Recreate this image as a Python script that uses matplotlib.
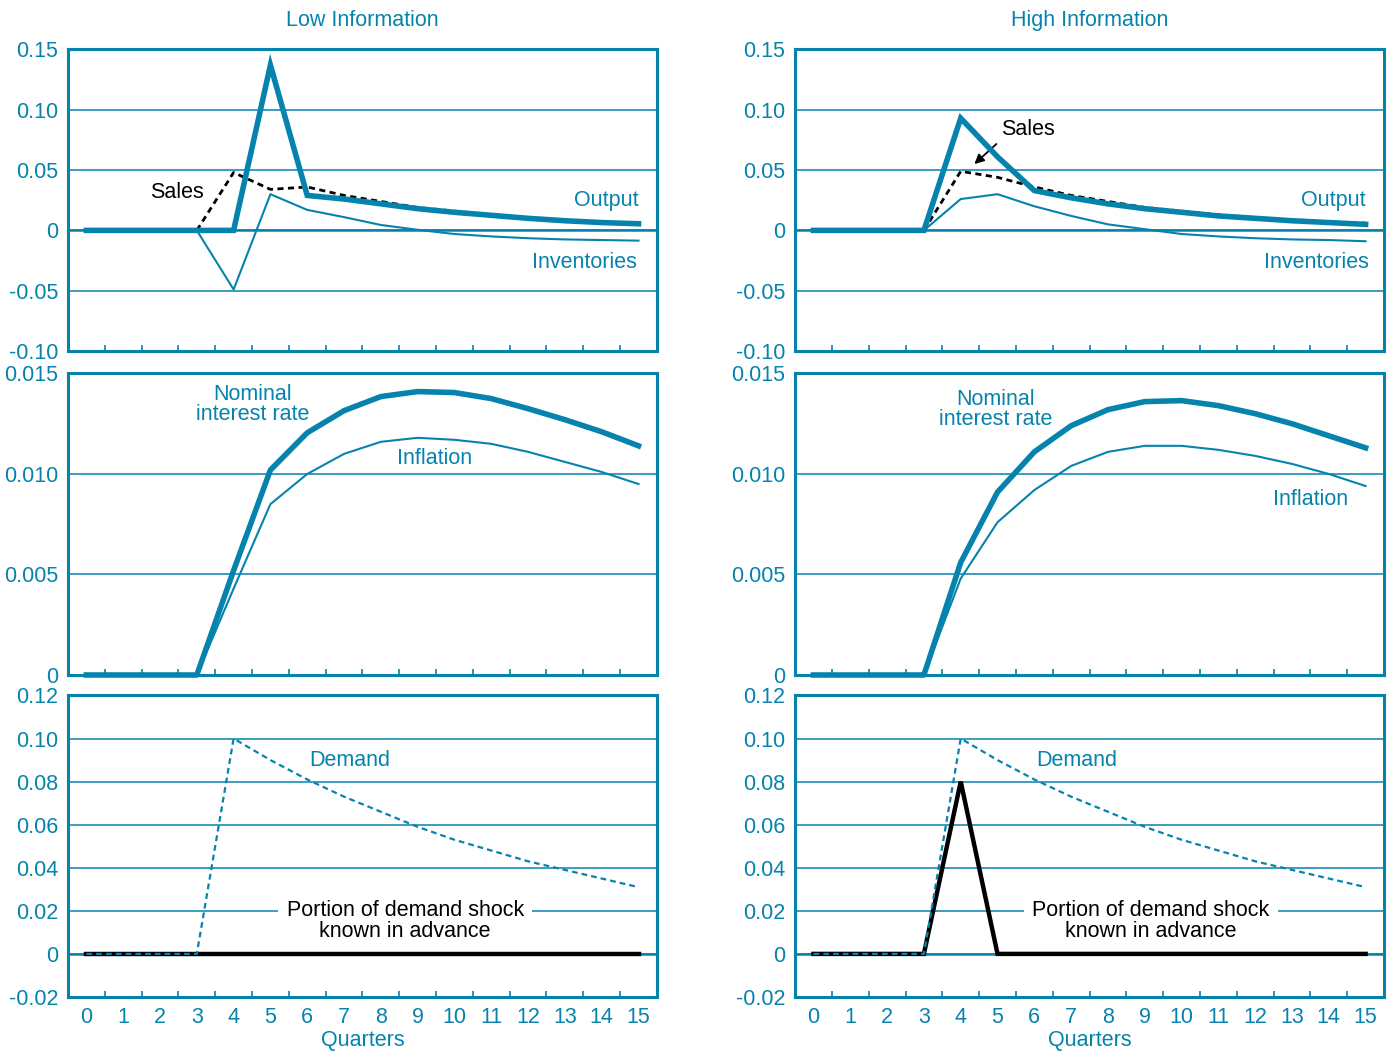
import numpy as np
import matplotlib
matplotlib.use("Agg")
import matplotlib.pyplot as plt

plt.rcParams['font.family'] = ['Liberation Sans', 'DejaVu Sans']

BLUE = '#0683ad'
FS = 15.5

quarters = np.arange(0, 16)

# Low information panels
low_output = [0, 0, 0, 0, 0, 0.137, 0.029, 0.026, 0.022, 0.018, 0.015, 0.0125, 0.010, 0.008, 0.0065, 0.0055]
low_sales = [0, 0, 0, 0, 0.048, 0.034, 0.036, 0.029, 0.024, 0.019, 0.016, 0.013, 0.0105, 0.0085, 0.007, 0.006]
low_inventories = [0, 0, 0, 0, -0.049, 0.030, 0.017, 0.011, 0.0045, 0.0005, -0.003, -0.005, -0.0065, -0.0075, -0.008, -0.0085]
low_rate = [0, 0, 0, 0, 0.0052, 0.0102, 0.01205, 0.01315, 0.01385, 0.0141, 0.01405, 0.01375, 0.01325, 0.0127, 0.0121, 0.0114]
low_inflation = [0, 0, 0, 0, 0.0043, 0.0085, 0.0100, 0.0110, 0.0116, 0.0118, 0.0117, 0.0115, 0.0111, 0.0106, 0.0101, 0.0095]
low_known = [0] * 16

# High information panels
high_output = [0, 0, 0, 0, 0.093, 0.061, 0.033, 0.027, 0.022, 0.018, 0.015, 0.012, 0.010, 0.008, 0.0065, 0.005]
high_sales = [0, 0, 0, 0, 0.049, 0.044, 0.036, 0.029, 0.024, 0.019, 0.016, 0.013, 0.0105, 0.0085, 0.007, 0.006]
high_inventories = [0, 0, 0, 0, 0.026, 0.030, 0.020, 0.012, 0.005, 0.001, -0.003, -0.005, -0.0065, -0.0075, -0.008, -0.009]
high_rate = [0, 0, 0, 0, 0.0056, 0.0091, 0.0111, 0.0124, 0.0132, 0.0136, 0.01365, 0.0134, 0.0130, 0.0125, 0.0119, 0.0113]
high_inflation = [0, 0, 0, 0, 0.0048, 0.0076, 0.0092, 0.0104, 0.0111, 0.0114, 0.0114, 0.0112, 0.0109, 0.0105, 0.0100, 0.0094]
high_known = [0, 0, 0, 0, 0.080, 0, 0, 0, 0, 0, 0, 0, 0, 0, 0, 0]

# shared demand shock
demand = [0, 0, 0, 0, 0.100, 0.090, 0.081, 0.073, 0.066, 0.059, 0.053, 0.048, 0.043, 0.039, 0.035, 0.031]

top_ticks = [-0.10, -0.05, 0, 0.05, 0.10, 0.15]
top_labels = ['-0.10', '-0.05', '0', '0.05', '0.10', '0.15']
mid_ticks = [0, 0.005, 0.010, 0.015]
mid_labels = ['0', '0.005', '0.010', '0.015']
bot_ticks = [-0.02, 0, 0.02, 0.04, 0.06, 0.08, 0.10, 0.12]
bot_labels = ['-0.02', '0', '0.02', '0.04', '0.06', '0.08', '0.10', '0.12']


def style(ax, ticks, labels, xlabels=False):
    ax.set_xlim(-0.5, 15.5)
    ax.set_ylim(ticks[0], ticks[-1])
    ax.set_yticks(ticks)
    ax.set_yticklabels(labels)
    ax.set_xticks(quarters)
    ax.set_xticks(np.arange(0.5, 15, 1), minor=True)
    ax.tick_params(axis='x', which='major', length=0, labelsize=FS, labelcolor=BLUE,
                   pad=7, labelbottom=xlabels)
    ax.tick_params(axis='x', which='minor', direction='in', length=4, width=1.2, color=BLUE)
    ax.tick_params(axis='y', length=0, pad=7, labelsize=FS, labelcolor=BLUE)
    for s in ax.spines.values():
        s.set_color(BLUE)
        s.set_linewidth(2.2)
    for t in ticks[1:-1]:
        ax.axhline(t, color=BLUE, lw=1.1, zorder=1)
    if xlabels:
        ax.set_xlabel('Quarters', fontsize=FS, color=BLUE, labelpad=2)


fig = plt.figure(figsize=(13.9, 10.55), dpi=100)
cols = [0.0489, 0.572]
rows = [0.6673, 0.3602, 0.055]
w, h = 0.4237, 0.2858

panels = [
    (low_output, low_sales, low_inventories, low_rate, low_inflation, low_known, 'Low Information'),
    (high_output, high_sales, high_inventories, high_rate, high_inflation, high_known, 'High Information'),
]

for c, (out, sal, inv, rate, infl, known, title) in enumerate(panels):
    # top: output, sales, inventories
    ax = fig.add_axes([cols[c], rows[0], w, h])
    style(ax, top_ticks, top_labels)
    ax.axhline(0, color=BLUE, lw=1.8, zorder=1)
    ax.plot(quarters, inv, color=BLUE, lw=1.5, zorder=3)
    ax.plot(quarters[3:], sal[3:], color='black', lw=2.0, dashes=(2.2, 1.6), zorder=3)
    ax.plot(quarters, out, color=BLUE, lw=4, zorder=4, solid_joinstyle='miter')
    ax.set_title(title, fontsize=FS, color=BLUE, pad=17)
    ax.text(15, 0.025, 'Output', fontsize=FS, color=BLUE, ha='right', va='center')
    if c == 0:
        ax.text(14.95, -0.0265, 'Inventories', fontsize=FS, color=BLUE, ha='right', va='center')
        ax.text(2.45, 0.0315, 'Sales', fontsize=FS, color='black', ha='center', va='center')
    else:
        ax.text(15.1, -0.027, 'Inventories', fontsize=FS, color=BLUE, ha='right', va='center')
        ax.annotate('Sales', xy=(4.37, 0.055), xytext=(5.83, 0.084), fontsize=FS,
                    color='black', ha='center', va='center',
                    arrowprops=dict(arrowstyle='-|>', color='black', lw=1.3,
                                    relpos=(0.0, 0.0), shrinkA=2, shrinkB=0,
                                    mutation_scale=14))

    # middle: nominal rate and inflation
    ax = fig.add_axes([cols[c], rows[1], w, h])
    style(ax, mid_ticks, mid_labels)
    ax.plot(quarters, infl, color=BLUE, lw=1.5, zorder=3, clip_on=False)
    ax.plot(quarters, rate, color=BLUE, lw=4, zorder=4, clip_on=False)
    if c == 0:
        ax.text(4.52, 0.01345, 'Nominal\ninterest rate', fontsize=FS, color=BLUE,
                ha='center', va='center', linespacing=0.95)
        ax.text(9.45, 0.01075, 'Inflation', fontsize=FS, color=BLUE, ha='center', va='center')
    else:
        ax.text(4.94, 0.0132, 'Nominal\ninterest rate', fontsize=FS, color=BLUE,
                ha='center', va='center', linespacing=0.95)
        ax.text(13.5, 0.00875, 'Inflation', fontsize=FS, color=BLUE, ha='center', va='center')

    # bottom: demand shock
    ax = fig.add_axes([cols[c], rows[2], w, h])
    style(ax, bot_ticks, bot_labels, xlabels=True)
    ax.axhline(0, color=BLUE, lw=1.8, zorder=3)
    ax.plot(quarters, known, color='black', lw=3.2, zorder=4, solid_joinstyle='miter')
    ax.plot(quarters, demand, color=BLUE, lw=1.6, dashes=(2.6, 1.8), zorder=5)
    ax.text(7.16, 0.090, 'Demand', fontsize=FS, color=BLUE, ha='center', va='center')
    ax.text([8.66, 9.16][c], 0.0153, 'Portion of demand shock\nknown in advance',
            fontsize=FS, color='black', ha='center', va='center', linespacing=0.95,
            zorder=2, bbox=dict(facecolor='white', edgecolor='none', pad=6))

plt.savefig('out.png', dpi=100)
